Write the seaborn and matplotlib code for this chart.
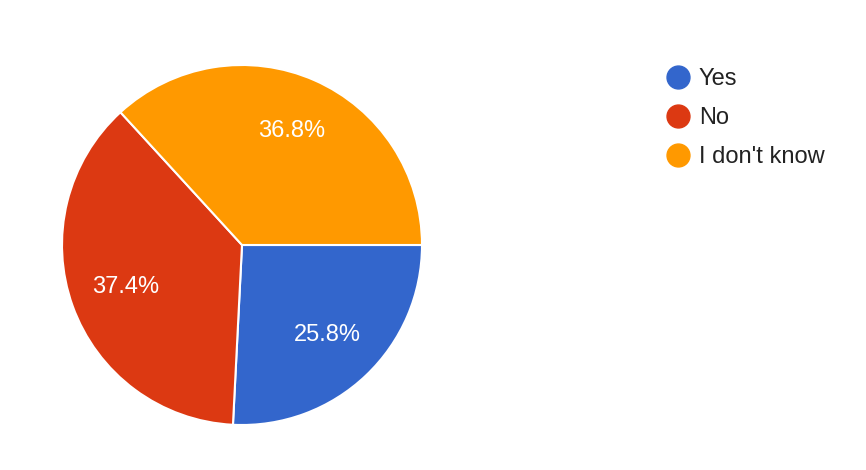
import matplotlib
matplotlib.use('Agg')
import matplotlib.pyplot as plt
import seaborn as sns
from matplotlib.lines import Line2D

sns.set_theme(style='white')
plt.rcParams['font.family'] = ['Liberation Sans', 'DejaVu Sans']

labels = ['Yes', 'No', "I don't know"]
values = [25.8, 37.4, 36.8]
colors = ['#3366CC', '#DC3912', '#FF9900']

fig = plt.figure(figsize=(8.66, 4.70), dpi=100)
ax = fig.add_axes([62 / 866, 45 / 470, 360 / 866, 360 / 470])

wedges, texts, autotexts = ax.pie(values, colors=colors, startangle=0, counterclock=False,
                                  autopct='%1.1f%%', pctdistance=0.69,
                                  wedgeprops=dict(edgecolor='white', linewidth=1.5),
                                  textprops=dict(color='white', fontsize=17))
ax.set_xlim(-1, 1)
ax.set_ylim(-1, 1)
ax.set_aspect('equal')

handles = [Line2D([], [], marker='o', linestyle='', markersize=16.5,
                  markerfacecolor=c, markeredgecolor=c) for c in colors]
fig.legend(handles, labels, loc='upper left', bbox_to_anchor=(664 / 866, 1 - 68 / 470),
           frameon=False, fontsize=17, labelspacing=0.72, handletextpad=0.28,
           handlelength=1.2, borderaxespad=0, borderpad=0, labelcolor='#222222')

fig.savefig('out.png', dpi=100)
